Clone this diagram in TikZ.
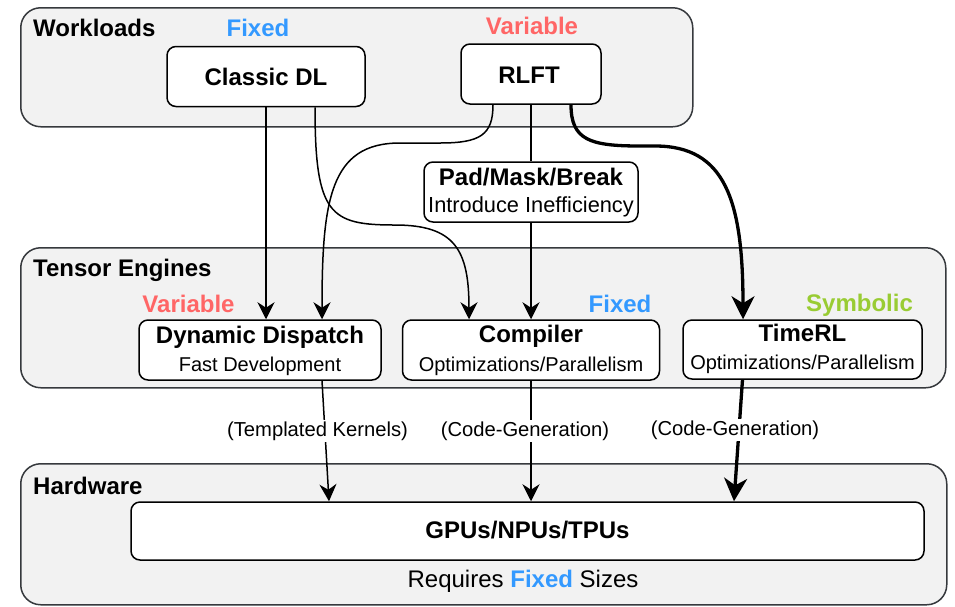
\documentclass[tikz,border=0pt]{standalone}
\usepackage{fontspec}
\setmainfont{Liberation Sans}
\usetikzlibrary{arrows.meta}
\definecolor{grpfill}{HTML}{F2F2F2}
\definecolor{grpline}{HTML}{36393D}
\definecolor{fixedblue}{HTML}{3399FF}
\definecolor{varred}{HTML}{FF6666}
\definecolor{symgreen}{HTML}{99CC33}
\begin{document}
\begin{tikzpicture}[x=1pt,y=-1pt,
  group/.style={draw=grpline,fill=grpfill,line width=1.5pt,rounded corners=20pt,
    inner sep=0pt,anchor=north west},
  box/.style={draw=black,fill=white,line width=1.5pt,rounded corners=9pt,inner sep=0pt},
  conn/.style={line width=1.5pt,-{Stealth[length=17pt,width=17pt,inset=5.5pt]}},
  plain/.style={line width=1.5pt},
  thickconn/.style={line width=3.3pt,-{Stealth[length=23pt,width=23pt,inset=7pt]}},
  grouptitle/.style={anchor=base west,inner sep=0pt,font=\fontsize{24}{28}\selectfont\bfseries},
  boxtitle/.style={anchor=base,inner sep=0pt,font=\fontsize{24}{28}\selectfont\bfseries},
  boxsub/.style={anchor=base,inner sep=0pt,font=\fontsize{20}{24}\selectfont},
  tag/.style={anchor=base,inner sep=0pt,font=\fontsize{24}{28}\selectfont\bfseries},
  lbl/.style={anchor=base,fill=white,inner sep=1.5pt,font=\fontsize{20.2}{24}\selectfont}]
\useasboundingbox (0,0) rectangle (955,606);

% layer groups
\node[group,minimum width=672pt,minimum height=119pt] (wl) at (20,7) {};
\node[group,minimum width=925pt,minimum height=140pt] (te) at (20,247) {};
\node[group,minimum width=926pt,minimum height=141pt] (hw) at (20,463) {};

\node[grouptitle] (wlt) at (33,36.5) {Workloads};
\node[grouptitle] (tet) at (33,276) {Tensor Engines};
\node[grouptitle] (hwt) at (33,494.5) {Hardware};

% workloads
\node[tag,text=fixedblue] (fx1) at (258,36.5) {Fixed};
\node[tag,text=varred] (vr1) at (532,34.5) {Variable};
\node[box,minimum width=198pt,minimum height=60pt] (cdl) at (266,76.5) {};
\node[boxtitle] (cdlt) at (266,85) {Classic DL};
\node[box,minimum width=140pt,minimum height=60pt] (rlft) at (531,74) {};
\node[boxtitle] (rlftt) at (529,83.5) {RLFT};

% workaround box
\node[box,minimum width=214pt,minimum height=60pt] (pad) at (531,192) {};
\node[boxtitle] (padt) at (531,185) {Pad/Mask/Break};
\node[boxsub,font=\fontsize{21.8}{26}\selectfont] (pads) at (531,212.5) {Introduce Inefficiency};

% tensor engines
\node[tag,text=varred] (vr2) at (188.5,312.5) {Variable};
\node[tag,text=fixedblue] (fx2) at (620,312) {Fixed};
\node[tag,text=symgreen] (sym) at (859.5,311.5) {Symbolic};

\node[box,minimum width=242pt,minimum height=60pt] (dd) at (260,350) {};
\node[boxtitle] (ddt) at (260,343.5) {Dynamic Dispatch};
\node[boxsub] (dds) at (260,371.5) {Fast Development};

\node[box,minimum width=257pt,minimum height=60pt] (comp) at (531,350) {};
\node[boxtitle] (compt) at (531,342.5) {Compiler};
\node[boxsub] (comps) at (531,371) {Optimizations/Parallelism};

\node[box,minimum width=239pt,minimum height=59pt] (trl) at (802.5,349.5) {};
\node[boxtitle] (trlt) at (802.5,341.5) {TimeRL};
\node[boxsub] (trls) at (802.5,369.5) {Optimizations/Parallelism};

% hardware
\node[box,minimum width=793pt,minimum height=58pt] (gpu) at (527.5,531) {};
\node[boxtitle] (gput) at (527.5,538.5) {GPUs/NPUs/TPUs};
\node[anchor=base,inner sep=0pt,font=\fontsize{24}{28}\selectfont] (req) at (523,587.5)
  {Requires {\bfseries\color{fixedblue}Fixed} Sizes};

% workloads to engines
\draw[conn] (cdl.south) -- (cdl.south |- dd.north);
\draw[conn] ([xshift=49pt]cdl.south) .. controls (315,215) and (330,225) .. (395,225)
  .. controls (455,225) and (469,250) .. ([xshift=-62pt]comp.north);
\draw[conn] ([xshift=-38pt]rlft.south) .. controls (493,135) and (480,143) .. (440,143)
  -- (400,143) .. controls (330,143) and (322,200) .. ([xshift=62pt]dd.north);
\draw[plain] (rlft.south) -- (pad.north);
\draw[conn] (pad.south) -- (pad.south |- comp.north);
\draw[thickconn] ([xshift=40pt]rlft.south) .. controls (571,140) and (590,146) .. (640,146)
  -- (655,146) .. controls (725,146) and (743,200) .. ([xshift=-59.5pt]trl.north);

% engines to hardware
\draw[conn] ([xshift=62pt]dd.south) -- ([xshift=-198.5pt]gpu.north);
\draw[conn] (comp.south) -- (comp.south |- gpu.north);
\draw[thickconn] ([xshift=-60pt]trl.south) -- ([xshift=206.5pt]gpu.north);

\node[lbl] (tk) at (317.5,436.5) {(Templated Kernels)};
\node[lbl] (cg1) at (525,436.5) {(Code-Generation)};
\node[lbl] (cg2) at (735,435.5) {(Code-Generation)};
\end{tikzpicture}
\end{document}
